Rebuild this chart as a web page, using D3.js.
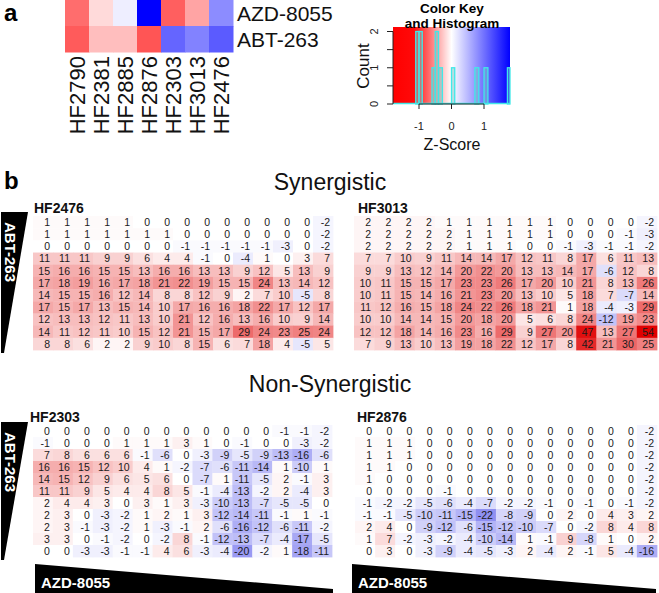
<!DOCTYPE html>
<html><head><meta charset="utf-8">
<script src="https://cdn.jsdelivr.net/npm/d3@7"></script>
<style>body{margin:0;background:#fff}svg{display:block;font-family:Arial,"Liberation Sans",sans-serif}</style>
</head><body>
<svg id="c" width="659" height="593"></svg>
<script>
// ---------- Data ----------
const sampleNames = ["HF2790","HF2381","HF2885","HF2876","HF2303","HF3013","HF2476"];
const drugNames = ["AZD-8055","ABT-263"];
const zAZD = [-1.03,-0.26,0.12,1.8,-1.13,-0.64,0.81];
const zABT = [-1.16,-0.46,-0.46,-1.2,1.09,0.88,1.16];
const histStart = [-1.1,-1.0,-0.6,-0.5,-0.4,0.0,0.72,1.0,1.72];
const histEnd   = [-1.0,-0.9,-0.5,-0.4,-0.28,0.1,0.84,1.12,1.8];
const histCount = [2,2,1,2,1,1,1,1,1];
const zTicks = [-1,0,1];
const countTicks = [0,0.5,1,1.5,2];
const countLabels = [0,1,2];

const hf2476 = [
 [1,1,1,1,1,0,0,0,0,0,0,0,0,0,-2],
 [1,1,1,1,1,1,1,0,0,0,0,0,0,0,-2],
 [0,0,0,0,0,0,0,-1,-1,-1,-1,-1,-3,0,-2],
 [11,11,11,9,9,6,4,4,-1,0,-4,1,0,3,7],
 [15,16,16,15,15,13,16,16,13,13,9,12,5,13,9],
 [17,18,19,16,17,18,21,22,19,15,15,24,13,14,12],
 [14,15,15,16,12,14,8,8,12,9,2,7,10,-5,8],
 [17,15,17,13,15,14,10,17,16,16,18,22,17,12,17],
 [12,13,13,12,11,13,10,21,12,16,13,16,10,9,14],
 [14,11,12,11,10,15,12,21,15,17,29,24,23,25,24],
 [8,8,6,2,2,9,10,8,15,6,7,18,4,-5,5]];
const hf3013 = [
 [2,2,2,2,1,1,1,1,1,1,0,0,0,0,-2],
 [2,2,2,2,2,1,1,1,1,1,0,0,0,-1,-3],
 [2,2,2,2,2,1,1,1,0,0,-1,-3,-1,-1,-2],
 [7,7,10,9,11,14,14,17,12,11,8,17,6,11,13],
 [9,9,13,12,14,20,22,20,13,13,14,17,-6,12,8],
 [10,11,15,15,17,23,23,26,17,20,10,21,8,13,26],
 [10,11,15,14,16,21,23,20,13,10,5,18,7,-7,14],
 [11,12,16,15,18,24,22,26,18,21,1,18,-4,-3,29],
 [10,10,14,14,15,20,18,20,5,6,8,24,-12,19,23],
 [12,12,18,14,16,23,16,29,9,27,20,47,13,27,54],
 [7,9,13,10,13,19,18,22,12,17,8,42,21,30,25]];
const hf2303 = [
 [0,0,0,0,0,0,0,0,0,0,0,0,-1,-1,-2],
 [-1,0,0,0,1,1,1,3,1,0,-1,0,0,-3,-2],
 [7,8,6,6,6,-1,-6,0,-3,-9,-5,-9,-13,-16,-6],
 [16,16,15,12,10,4,1,-2,-7,-6,-11,-14,1,-10,1],
 [14,15,12,9,6,5,6,0,-7,1,-11,-5,2,-1,3],
 [11,11,9,5,4,4,8,5,-1,-4,-13,-2,2,-4,3],
 [2,4,4,3,0,3,1,3,-3,-10,-13,-7,-5,-5,0],
 [2,3,0,-3,-2,1,2,1,3,-12,-14,-11,-1,1,-1],
 [2,3,-1,-3,-2,1,-3,-1,2,-6,-16,-12,-6,-11,-2],
 [3,3,0,-1,-2,0,-2,8,-1,-12,-13,-7,-4,-17,-5],
 [0,0,-3,-3,-1,-1,4,6,-3,-4,-20,-2,1,-18,-11]];
const hf2876 = [
 [0,0,0,0,0,0,0,0,0,0,0,0,0,0,-2],
 [1,1,1,0,0,0,0,0,0,0,0,0,0,0,-2],
 [1,1,1,0,0,0,0,0,0,0,0,0,0,0,-2],
 [1,1,0,0,0,0,0,0,0,0,0,0,0,0,-2],
 [1,0,0,0,0,0,0,0,0,0,0,0,0,0,-2],
 [0,0,0,0,-1,0,0,0,0,0,0,0,0,0,-2],
 [-1,-2,-2,-5,-6,-4,-7,-2,-2,-1,0,-1,0,-1,-2],
 [-1,-1,-5,-10,-11,-15,-22,-8,-9,0,2,0,4,3,2],
 [2,4,0,-9,-12,-6,-15,-12,-10,-7,0,-2,8,4,8],
 [1,7,-2,-3,-2,-4,-10,-14,1,-1,9,-8,1,0,2],
 [0,3,0,-3,-9,-4,-5,-3,2,-4,2,-1,5,-4,-16]];

// ---------- Drawing ----------
const svg = d3.select("#c");

// Panel a heatmap
const zColor = d3.scaleLinear().domain([-1.8,0,1.8]).range(["#ff0000","#ffffff","#0000ff"]).clamp(true);
const ax = d3.scaleBand().domain(sampleNames).range([65,233]);
const ay = d3.scaleBand().domain(drugNames).range([0,52]);
const zRows = [zAZD, zABT];
drugNames.forEach((d,ri)=>{
  svg.append("g").selectAll("rect").data(sampleNames).join("rect")
    .attr("x",s=>ax(s)).attr("y",ay(d)).attr("width",ax.bandwidth()+0.5).attr("height",ay.bandwidth()+0.5)
    .attr("fill",(s,i)=>zColor(zRows[ri][i]));
  svg.append("text").attr("x",237).attr("y",ay(d)+ay.bandwidth()/2).attr("dy","0.36em")
    .attr("font-size",21).attr("fill","#111").text(d);
});
svg.append("g").selectAll("text").data(sampleNames).join("text")
  .attr("transform",s=>`translate(${ax(s)+ax.bandwidth()/2},56) rotate(-90)`)
  .attr("text-anchor","end").attr("dy","0.36em").attr("font-size",22).attr("fill","#111").text(s=>s);

svg.append("text").attr("x",4).attr("y",21).attr("font-size",24).attr("font-weight","bold").text("a");
svg.append("text").attr("x",4).attr("y",189).attr("font-size",24).attr("font-weight","bold").text("b");

// Color key
const kx = d3.scaleLinear().domain([-1.8,1.8]).range([393,510]);
const ky = d3.scaleLinear().domain([0,2]).range([104,31.5]);
const defs = svg.append("defs");
const grad = defs.append("linearGradient").attr("id","kg");
[[0,"#ff0000"],[0.18,"#ff0a0a"],[0.5,"#ffffff"],[1,"#0000ff"]].forEach(([o,c])=>grad.append("stop").attr("offset",o).attr("stop-color",c));
svg.append("rect").attr("x",kx(-1.8)).attr("y",27).attr("width",kx(1.8)-kx(-1.8)).attr("height",104-27).attr("fill","url(#kg)");
// histogram
const hg = svg.append("g");
histCount.forEach((c,i)=>{
  hg.append("rect").attr("x",kx(histStart[i])).attr("y",ky(c)).attr("width",kx(histEnd[i])-kx(histStart[i])).attr("height",ky(0)-ky(c))
    .attr("fill","rgba(120,195,195,0.5)").attr("stroke","#40e8e8").attr("stroke-width",1.3);
});
svg.append("line").attr("x1",kx(-1.8)).attr("x2",kx(1.8)).attr("y1",ky(0)-0.5).attr("y2",ky(0)-0.5).attr("stroke","#40e8e8").attr("stroke-width",1.5);
svg.append("text").attr("x",452).attr("y",13).attr("text-anchor","middle").attr("font-size",13.5).attr("font-weight","bold").text("Color Key");
svg.append("text").attr("x",452).attr("y",27.5).attr("text-anchor","middle").attr("font-size",13.5).attr("font-weight","bold").text("and Histogram");
// axes
const yAx = svg.append("g").attr("stroke","#222");
yAx.append("line").attr("x1",393).attr("x2",393).attr("y1",ky(0)).attr("y2",ky(2));
countTicks.forEach(t=>yAx.append("line").attr("x1",387).attr("x2",393).attr("y1",ky(t)).attr("y2",ky(t)));
svg.append("g").selectAll("text").data(countLabels).join("text")
  .attr("transform",t=>`translate(378,${ky(t)}) rotate(-90)`).attr("text-anchor","middle")
  .attr("font-size",11).attr("fill","#222").text(t=>t);
svg.append("text").attr("transform","translate(369,66) rotate(-90)").attr("text-anchor","middle").attr("font-size",17).attr("fill","#111").text("Count");
const xAx = svg.append("g").attr("stroke","#222");
xAx.append("line").attr("x1",kx(-1)).attr("x2",kx(1)).attr("y1",104).attr("y2",104);
zTicks.forEach(t=>xAx.append("line").attr("x1",kx(t)).attr("x2",kx(t)).attr("y1",104).attr("y2",109));
svg.append("g").selectAll("text").data(zTicks).join("text")
  .attr("x",t=>kx(t)).attr("y",130).attr("text-anchor","middle").attr("font-size",11).attr("fill","#222").text(t=>t);
svg.append("text").attr("x",452).attr("y",150).attr("text-anchor","middle").attr("font-size",16).attr("fill","#111").text("Z-Score");

// Panel b
const cellColor = d3.scaleLinear().domain([-50,0,50]).range(["#0000e0","#ffffff","#e00000"]).clamp(true);
function drawGrid(data, name, x0, x1, y0, y1, labelX, labelY){
  const cols = d3.range(data[0].length), rows = d3.range(data.length);
  const bx = d3.scaleBand().domain(cols).range([x0,x1]);
  const by = d3.scaleBand().domain(rows).range([y0,y1]);
  const g = svg.append("g");
  rows.forEach(r=>{
    g.append("g").selectAll("rect").data(cols).join("rect")
      .attr("x",c=>bx(c)).attr("y",by(r)).attr("width",bx.bandwidth()+0.4).attr("height",by.bandwidth()+0.4)
      .attr("fill",c=>cellColor(data[r][c]));
  });
  rows.forEach(r=>{
    g.append("g").selectAll("text").data(cols).join("text")
      .attr("x",c=>bx(c)+bx.bandwidth()-3).attr("y",by(r)+by.bandwidth()/2).attr("dy","0.36em")
      .attr("text-anchor","end").attr("font-size",10.5).attr("fill","#1a1a1a").text(c=>data[r][c]);
  });
  svg.append("text").attr("x",labelX).attr("y",labelY).attr("font-size",14).attr("font-weight","bold").attr("fill","#111").text(name);
}
drawGrid(hf2476,"HF2476",33,333,216,350,34,213);
drawGrid(hf3013,"HF3013",354,657,216,350,358,213);
drawGrid(hf2303,"HF2303",33,332,425,557,30,422);
drawGrid(hf2876,"HF2876",355,657,425,557,357,422);

svg.append("text").attr("x",330).attr("y",190).attr("text-anchor","middle").attr("font-size",23).attr("fill","#111").text("Synergistic");
svg.append("text").attr("x",330).attr("y",392).attr("text-anchor","middle").attr("font-size",23).attr("fill","#111").text("Non-Synergistic");

// ABT-263 wedges
[[212,353],[422,560]].forEach(([t,b])=>{
  svg.append("path").attr("d",`M1,${t} L28,${t} L4,${b} L1,${b} Z`).attr("fill","#000");
  svg.append("text").attr("transform",`translate(5,${t+10}) rotate(90)`).attr("font-size",15).attr("font-weight","bold").attr("fill","#fff").text("ABT-263");
});
// AZD-8055 wedges
[[35,333],[352,656]].forEach(([l,r])=>{
  svg.append("path").attr("d",`M${l},564 L${r},589 L${r},593 L${l},593 Z`).attr("fill","#000");
  svg.append("text").attr("x",l+6).attr("y",588).attr("font-size",15).attr("font-weight","bold").attr("fill","#fff").text("AZD-8055");
});
</script>
</body></html>
